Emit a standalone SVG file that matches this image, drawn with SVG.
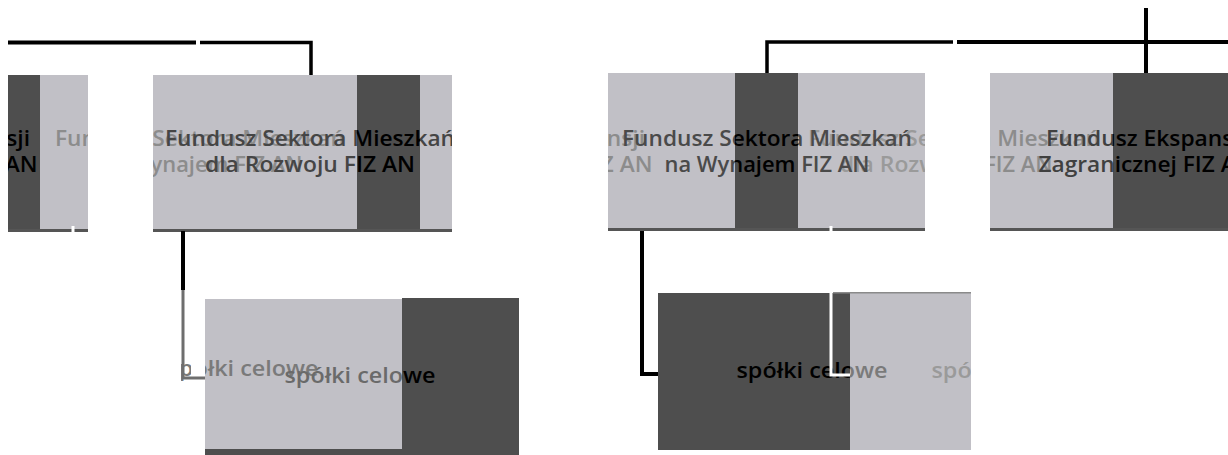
<svg xmlns="http://www.w3.org/2000/svg" width="1228" height="455" viewBox="0 0 1228 455">
<style>
.lt{fill:#c1c0c6}
.dk{fill:#4e4e4e}
.bs{fill:#555555}
text{font-family:"Open Sans","Noto Sans","DejaVu Sans",sans-serif;font-weight:600;font-size:22px;text-anchor:middle}
.ln{fill:none;stroke:#000;stroke-width:4}
.ln2{fill:none;stroke:#000;stroke-width:3.5}
.lg{fill:none;stroke:#6e6e6e;stroke-width:3}
.lw{fill:none;stroke:#ffffff;stroke-width:3}
</style>
<defs>
<clipPath id="cL0d"><rect x="8" y="75" width="32" height="155"/></clipPath>
<clipPath id="cL0l"><rect x="40" y="75" width="48" height="155"/></clipPath>
<clipPath id="cL1l"><rect x="153" y="75" width="204" height="155"/></clipPath>
<clipPath id="cL1d"><rect x="357" y="75" width="63" height="155"/></clipPath>
<clipPath id="cL1all"><rect x="153" y="75" width="299" height="155"/></clipPath>
<clipPath id="cMl1"><rect x="608" y="73" width="127" height="155"/></clipPath>
<clipPath id="cMd"><rect x="735" y="73" width="63" height="155"/></clipPath>
<clipPath id="cMl2"><rect x="798" y="73" width="127" height="155"/></clipPath>
<clipPath id="cMall"><rect x="608" y="73" width="317" height="155"/></clipPath>
<clipPath id="cRl"><rect x="990" y="73" width="123" height="155"/></clipPath>
<clipPath id="cRd"><rect x="1113" y="73" width="115" height="155"/></clipPath>
<clipPath id="cB1g"><rect x="181" y="340" width="10" height="60"/><rect x="205" y="340" width="197" height="60"/></clipPath>
<clipPath id="cB1l"><rect x="205" y="299" width="197" height="150"/></clipPath>
<clipPath id="cB1d"><rect x="402" y="298" width="117" height="157"/></clipPath>
<clipPath id="cB2d"><rect x="658" y="293" width="192" height="157"/></clipPath>
<clipPath id="cB2l"><rect x="850" y="293" width="121" height="157"/></clipPath>
</defs>

<g id="node-ekspansji-fragment">
<rect class="dk" x="8" y="75" width="32" height="155"/>
<rect class="lt" x="40" y="75" width="48" height="155"/>
<rect class="bs" x="8" y="229" width="80" height="3"/>
<g clip-path="url(#cL0d)" fill="#000">
<text x="-70" y="146" textLength="200" lengthAdjust="spacingAndGlyphs">Fundusz Ekspansji</text>
<text x="-70" y="172" textLength="215" lengthAdjust="spacingAndGlyphs">Zagranicznej FIZ AN</text>
</g>
<g clip-path="url(#cL0l)" fill="#8c8c8c">
<text x="200" y="146" textLength="290" lengthAdjust="spacingAndGlyphs">Fundusz Sektora Mieszkań</text>
<text x="200" y="172" textLength="205" lengthAdjust="spacingAndGlyphs">na Wynajem FIZ AN</text>
</g>
</g>

<g id="node-sektora-rozwoj">
<rect class="lt" x="153" y="75" width="204" height="155"/>
<rect class="dk" x="357" y="75" width="63" height="155"/>
<rect class="lt" x="420" y="75" width="32" height="155"/>
<rect class="bs" x="153" y="229" width="299" height="3"/>
<g clip-path="url(#cL1l)" fill="#8c8c8c">
<text x="200" y="146" textLength="290" lengthAdjust="spacingAndGlyphs">Fundusz Sektora Mieszkań</text>
<text x="200" y="172" textLength="205" lengthAdjust="spacingAndGlyphs">na Wynajem FIZ AN</text>
</g>
<g clip-path="url(#cL1all)" fill="#454545">
<text x="310" y="146" textLength="290" lengthAdjust="spacingAndGlyphs">Fundusz Sektora Mieszkań</text>
<text x="310" y="172" textLength="210" lengthAdjust="spacingAndGlyphs">dla Rozwoju FIZ AN</text>
</g>
<g clip-path="url(#cL1d)" fill="#000">
<text x="310" y="146" textLength="290" lengthAdjust="spacingAndGlyphs">Fundusz Sektora Mieszkań</text>
<text x="310" y="172" textLength="210" lengthAdjust="spacingAndGlyphs">dla Rozwoju FIZ AN</text>
</g>
</g>

<g id="node-sektora-wynajem">
<rect class="lt" x="608" y="73" width="127" height="155"/>
<rect class="dk" x="735" y="73" width="63" height="155"/>
<rect class="lt" x="798" y="73" width="127" height="155"/>
<rect class="bs" x="608" y="228" width="317" height="3"/>
<g clip-path="url(#cMl1)" fill="#8c8c8c">
<text x="545" y="146" textLength="200" lengthAdjust="spacingAndGlyphs">Fundusz Ekspansji</text>
<text x="545" y="172" textLength="215" lengthAdjust="spacingAndGlyphs">Zagranicznej FIZ AN</text>
</g>
<g clip-path="url(#cMl2)" fill="#9a9a9a">
<text x="953" y="146" textLength="290" lengthAdjust="spacingAndGlyphs">Fundusz Sektora Mieszkań</text>
<text x="945" y="172" textLength="210" lengthAdjust="spacingAndGlyphs">dla Rozwoju FIZ AN</text>
</g>
<g clip-path="url(#cMall)" fill="#4a4a4a">
<text x="767" y="146" textLength="290" lengthAdjust="spacingAndGlyphs">Fundusz Sektora Mieszkań</text>
<text x="767" y="172" textLength="205" lengthAdjust="spacingAndGlyphs">na Wynajem FIZ AN</text>
</g>
<g clip-path="url(#cMd)" fill="#000">
<text x="767" y="146" textLength="290" lengthAdjust="spacingAndGlyphs">Fundusz Sektora Mieszkań</text>
<text x="767" y="172" textLength="205" lengthAdjust="spacingAndGlyphs">na Wynajem FIZ AN</text>
</g>
</g>

<g id="node-ekspansji">
<rect class="lt" x="990" y="73" width="123" height="155"/>
<rect class="dk" x="1113" y="73" width="115" height="155"/>
<rect class="bs" x="990" y="228" width="238" height="3"/>
<g clip-path="url(#cRl)" fill="#8c8c8c">
<text x="955" y="146" textLength="290" lengthAdjust="spacingAndGlyphs">Fundusz Sektora Mieszkań</text>
<text x="950" y="172" textLength="205" lengthAdjust="spacingAndGlyphs">na Wynajem FIZ AN</text>
</g>
<g clip-path="url(#cRl)" fill="#404040">
<text x="1146" y="146" textLength="200" lengthAdjust="spacingAndGlyphs">Fundusz Ekspansji</text>
<text x="1146" y="172" textLength="215" lengthAdjust="spacingAndGlyphs">Zagranicznej FIZ AN</text>
</g>
<g clip-path="url(#cRd)" fill="#000">
<text x="1146" y="146" textLength="200" lengthAdjust="spacingAndGlyphs">Fundusz Ekspansji</text>
<text x="1146" y="172" textLength="215" lengthAdjust="spacingAndGlyphs">Zagranicznej FIZ AN</text>
</g>
</g>

<g id="node-spolki-1">
<rect class="lt" x="205" y="299" width="197" height="150"/>
<rect class="dk" x="402" y="298" width="117" height="157"/>
<rect class="dk" x="205" y="449" width="314" height="6"/>
<g clip-path="url(#cB1g)" fill="#7a7a7a">
<text x="243" y="376" textLength="151" lengthAdjust="spacingAndGlyphs">spółki celowe</text>
</g>
<g clip-path="url(#cB1l)" fill="#6a6a6a">
<text x="360" y="383" textLength="151" lengthAdjust="spacingAndGlyphs">spółki celowe</text>
</g>
<g clip-path="url(#cB1d)" fill="#000">
<text x="360" y="383" textLength="151" lengthAdjust="spacingAndGlyphs">spółki celowe</text>
</g>
</g>

<g id="node-spolki-2">
<rect class="dk" x="658" y="293" width="192" height="157"/>
<rect class="lt" x="850" y="293" width="121" height="157"/>
<rect fill="#8a8a8a" x="833" y="292" width="138" height="1.5"/>
<g clip-path="url(#cB2d)" fill="#000">
<text x="812" y="378" textLength="151" lengthAdjust="spacingAndGlyphs">spółki celowe</text>
</g>
<g clip-path="url(#cB2l)" fill="#7a7a7a">
<text x="812" y="378" textLength="151" lengthAdjust="spacingAndGlyphs">spółki celowe</text>
</g>
<g clip-path="url(#cB2l)" fill="#9a9a9a">
<text x="1007" y="378" textLength="151" lengthAdjust="spacingAndGlyphs">spółki celowe</text>
</g>
</g>

<g id="connectors">
<path class="ln" d="M8,42.5 H196"/>
<path class="ln2" d="M200,42.5 H311 V75"/>
<path class="ln" d="M183,231 V290"/>
<path class="lg" d="M183,290 V378 H205"/>
<path class="ln2" d="M767,73 V42 H953"/>
<path class="ln" d="M957,42 H1228"/>
<path class="ln" d="M1146,8 V73"/>
<path class="ln" d="M642,231 V374 H658"/>
<path class="lw" d="M831,226 V375 H850"/>
<path class="lw" d="M73,226 V233"/>
</g>
</svg>
